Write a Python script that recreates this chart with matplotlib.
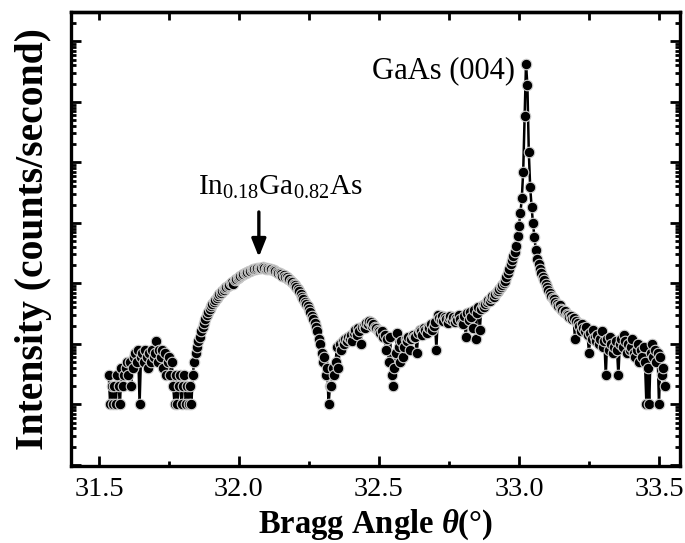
import numpy as np
import matplotlib
matplotlib.use("Agg")
from matplotlib import pyplot as plt
from matplotlib.ticker import MultipleLocator, LogLocator, NullFormatter, FormatStrFormatter

plt.rcParams["font.family"] = ["Liberation Serif", "DejaVu Serif"]
plt.rcParams["mathtext.fontset"] = "custom"
plt.rcParams["mathtext.rm"] = "Liberation Serif"
plt.rcParams["mathtext.it"] = "Liberation Serif:italic:bold"
plt.rcParams["mathtext.bf"] = "Liberation Serif:bold"

step = 0.005  # scan step (deg)

# counts/second, split in pieces
start_tail_left = 31.535
counts_tail_left = [3, 1, 2, 1, 2, 1, 3, 2, 1, 4,
                    2, 3, 4, 5, 3, 5, 2, 4, 6, 7,
                    5, 8, 1, 6, 7, 5, 8, 6, 4, 7,
                    5, 8, 6, 7, 11, 5, 8, 6, 8, 4,
                    7, 3, 5, 6, 3, 5, 2, 1, 3, 1,
                    2, 3, 1, 2, 3, 1, 2, 1]

start_layer = 31.825
counts_layer = [2, 1, 3, 5, 7, 9, 11, 13, 16, 19,
                22, 26, 30, 34, 37, 42, 46, 50, 53, 57,
                62, 66, 70, 74, 78, 83, 86, 90, 95, 100,
                104, 96, 113, 116, 122, 126, 130, 136, 140, 146,
                150, 155, 158, 162, 166, 170, 172, 175, 178, 182,
                176, 180, 183, 178, 175, 178, 172, 175, 170, 168,
                165, 160, 156, 150, 146, 142, 130, 138, 128, 125,
                118, 120, 110, 104, 98, 92, 86, 80, 74, 66,
                60, 55, 50, 46, 42, 38, 33, 29, 26, 22,
                19, 16, 12, 10, 7, 5, 6, 3, 4, 1,
                2]

start_middle = 32.330
counts_middle = [2, 4, 3, 5, 9, 4, 10, 8, 11, 10,
                 12, 11, 13, 12, 14, 11, 15, 17, 14, 18,
                 16, 10, 19, 20, 18, 22, 21, 24, 23, 20,
                 21, 19, 18, 17, 16, 15, 16, 13, 14, 8,
                 12, 5, 13, 3, 2, 4, 7, 15, 9, 5,
                 11, 6, 9, 12, 11, 13, 8, 12, 14, 13,
                 13, 7, 15, 17, 16, 14, 18, 17, 15, 19,
                 18, 21, 17, 20, 23, 8, 30, 27, 25, 29,
                 24, 28, 26, 22, 27, 29, 25, 28, 23, 27,
                 25, 30, 26, 22, 21, 29, 13, 32, 25, 34,
                 28, 18, 36, 12, 32, 40, 17, 38, 44, 41,
                 46, 50, 53, 51, 57, 61, 60, 66, 72, 76,
                 82, 88, 92, 100, 110]

start_substrate = 32.955
counts_substrate = [125, 150, 175, 205, 240, 280, 335, 420, 600, 900,
                    1450, 2540, 7000, 59000, 420000, 190000, 15000, 3860, 1840, 980,
                    590, 355, 250, 205, 170, 147, 128, 112, 98, 88,
                    78, 70]

start_tail_right = 33.115
counts_tail_right = [62, 58, 55, 50, 46, 42, 44, 38, 36, 34,
                     35, 31, 30, 28, 29, 26, 27, 12, 24, 22,
                     20, 16, 21, 18, 16, 19, 14, 7, 15, 12,
                     17, 13, 11, 14, 10, 12, 16, 9, 11, 3,
                     12, 8, 13, 10, 7, 9, 11, 8, 3, 10,
                     12, 9, 14, 11, 7, 10, 8, 9, 12, 7,
                     6, 8, 10, 5, 8, 6, 9, 5, 1, 4,
                     1, 7, 10, 6, 8, 5, 7, 1, 6, 3,
                     4, 2]

pieces = [(start_tail_left, counts_tail_left),
          (start_layer, counts_layer),
          (start_middle, counts_middle),
          (start_substrate, counts_substrate),
          (start_tail_right, counts_tail_right)]
theta = np.concatenate([s + step * np.arange(len(c)) for s, c in pieces])
counts = np.concatenate([np.array(c, dtype=float) for s, c in pieces])

fig = plt.figure(figsize=(6.85, 5.43), dpi=100)
ax = fig.add_axes([0.1036, 0.1418, 0.8891, 0.8361])

ax.plot(theta, counts, color="k", lw=1.8, marker="o", ms=7.6,
        mfc="k", mec="#d0d0d0", mew=0.8)

ax.set_yscale("log")
ax.set_ylim(0.0955, 3.05e6)
ax.set_xlim(31.40, 33.575)

ax.yaxis.set_major_locator(LogLocator(base=10, numticks=20))
ax.yaxis.set_minor_locator(LogLocator(base=10, subs=np.arange(2, 10), numticks=20))
ax.yaxis.set_major_formatter(NullFormatter())
ax.yaxis.set_minor_formatter(NullFormatter())
ax.xaxis.set_major_locator(MultipleLocator(0.5))
ax.xaxis.set_minor_locator(MultipleLocator(0.25))
ax.xaxis.set_major_formatter(FormatStrFormatter("%.1f"))

for sp in ax.spines.values():
    sp.set_linewidth(2.4)
ax.tick_params(which="both", direction="in", width=2, right=True, top=False)
ax.tick_params(which="major", length=7.5)
ax.tick_params(which="minor", length=3.8)
ax.tick_params(axis="x", labelsize=20.5, pad=8)

# top axis: evenly sized ticks every 0.25
secx = ax.secondary_xaxis("top")
secx.xaxis.set_major_locator(MultipleLocator(0.25))
secx.tick_params(direction="in", length=5.5, width=2, labeltop=False)
secx.spines["top"].set_linewidth(2.4)

# annotations
ax.text(32.985, 2.44e5, "GaAs (004)", ha="right", va="baseline", fontsize=22)
ax.text(32.148, 2880, r"In$_{0.18}$Ga$_{0.82}$As", ha="center", va="baseline", fontsize=21)
ax.annotate("", xy=(32.071, 272), xytext=(32.071, 1510),
            arrowprops=dict(arrowstyle="-|>,head_length=0.4,head_width=0.16",
                            color="k", lw=2.4, mutation_scale=27,
                            shrinkA=0, shrinkB=0))

fig.text(0.548, 0.018, r"Bragg Angle $\theta$(°)", ha="center", va="baseline",
         fontsize=23.5, fontweight="bold")
fig.text(0.049, 0.559, "Intensity (counts/second)", rotation=90, ha="center",
         va="center", fontsize=28.5, fontweight="bold")

fig.savefig("out.png", dpi=100)
